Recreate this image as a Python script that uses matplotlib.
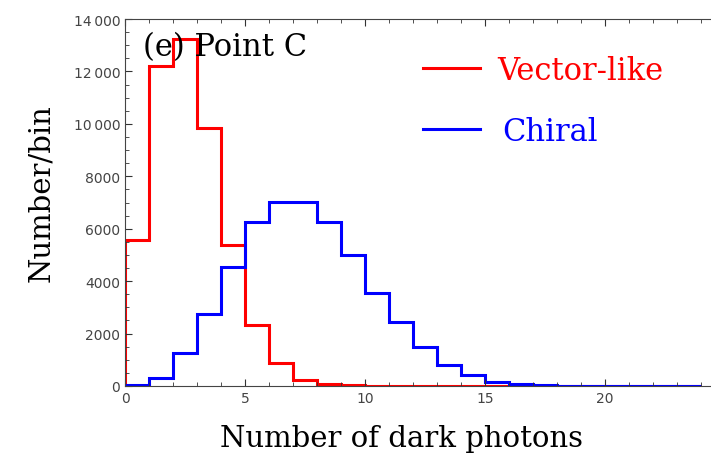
import matplotlib.pyplot as plt
import numpy as np
from matplotlib.ticker import MultipleLocator, FuncFormatter

# histogram bin edges (number of dark photons) and counts per bin
edges = np.arange(0, 25)
vector_like = [5570, 12200, 13240, 9850, 5380, 2330, 880, 230, 60, 20,
               8, 3, 1, 0, 0, 0, 0, 0, 0, 0, 0, 0, 0, 0]
chiral = [40, 300, 1260, 2750, 4540, 6260, 7020, 7020, 6260, 5000,
          3530, 2440, 1490, 800, 420, 150, 70, 25, 10, 5, 2, 1, 0, 0]

series_names = ["Vector-like", "Chiral"]
series_colors = ["#ff0000", "#0000ff"]

serif = "DejaVu Serif"

fig = plt.figure(figsize=(7.11, 4.56), dpi=100)
ax = fig.add_axes([125/711, 69/456, 593/711, (387-20)/456])

ax.stairs(vector_like, edges, color=series_colors[0], lw=2.2)
ax.stairs(chiral, edges, color=series_colors[1], lw=2.2)

ax.set_xlim(0, 24.7)
ax.set_ylim(0, 14000)
ax.xaxis.set_major_locator(MultipleLocator(5))
ax.xaxis.set_minor_locator(MultipleLocator(1))
ax.yaxis.set_major_locator(MultipleLocator(2000))
ax.yaxis.set_minor_locator(MultipleLocator(500))
ax.yaxis.set_major_formatter(FuncFormatter(
    lambda v, p: f"{int(v):,}".replace(",", "\u2009") if v >= 10000 else f"{int(v)}"))
ax.tick_params(which="both", direction="in", top=True, right=True,
               labelsize=10, labelcolor="#444444", color="#333333")
ax.tick_params(which="major", length=5)
ax.tick_params(which="minor", length=3)
for s in ax.spines.values():
    s.set_color("#444444")

ax.set_xlabel("Number of dark photons", fontfamily=serif, fontsize=21)
ax.xaxis.set_label_coords(0.467, -0.104)
ax.set_ylabel("Number/bin", fontfamily=serif, fontsize=21)
ax.yaxis.set_label_coords(-0.118, 0.529)

ax.text(0.75, 12950, "(e) Point C", fontfamily=serif, fontsize=22, va="center")

# legend drawn as lines + coloured text
leg_y = [12140, 9810]
leg_text_x = [15.5, 15.7]
for name, col, y, tx in zip(series_names, series_colors, leg_y, leg_text_x):
    ax.plot([12.4, 14.8], [y, y], color=col, lw=2.2)
    ax.text(tx, y - 120, name, color=col, fontfamily=serif, fontsize=22, va="center")

fig.savefig("out.png", dpi=100)
